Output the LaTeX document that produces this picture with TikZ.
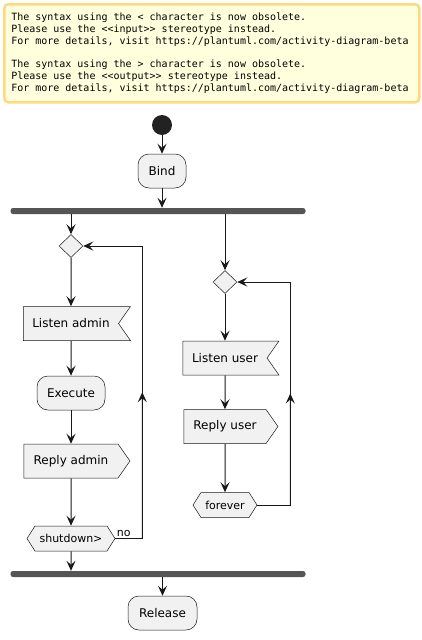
\documentclass[tikz,border=0pt]{standalone}
\usepackage{fontspec}
\setmainfont{DejaVu Sans}
\newfontfamily\notefont{DejaVu Sans Mono}[Ligatures=TeXOff,WordSpace={1,0,0}]
\usetikzlibrary{positioning,shapes.geometric,shapes.symbols,arrows.meta,calc}
\definecolor{boxfill}{HTML}{F1F1F1}
\definecolor{boxline}{HTML}{181818}
\definecolor{notefill}{HTML}{FFFFDD}
\definecolor{noteline}{HTML}{FFD980}
\definecolor{barcol}{HTML}{555555}
\definecolor{dotcol}{HTML}{222222}

\begin{document}
\begin{tikzpicture}[x=1pt,y=-1pt,
      note/.style={draw=noteline,fill=notefill,line width=2.5pt,rounded corners=4pt,
        text width=401pt,minimum height=98pt,inner xsep=7pt,align=left,
        font=\notefont\fontsize{10}{11.7}\selectfont},
      dot/.style={circle,fill=dotcol,minimum size=20pt,inner sep=0pt},
      act/.style={draw=boxline,fill=boxfill,line width=0.5pt,rounded corners=11pt,
        minimum height=34pt,font=\fontsize{12}{14}\selectfont},
      inbox/.style={act,rounded corners=0pt,signal,signal to=nowhere,signal from=east,
        signal pointer angle=110},
      outbox/.style={act,rounded corners=0pt,signal,signal to=east,signal from=nowhere,
        signal pointer angle=110},
      test/.style={act,rounded corners=0pt,signal,signal to=west and east,
        signal pointer angle=115,minimum height=25pt,font=\fontsize{11}{13}\selectfont},
      choice/.style={draw=boxline,fill=boxfill,line width=0.5pt,diamond,
        minimum width=24pt,minimum height=23pt,inner sep=0pt},
      bar/.style={fill=barcol,rounded corners=2.5pt,minimum width=295pt,
        minimum height=6pt,inner sep=0pt},
      line/.style={draw=boxline,line width=1pt},
      flow/.style={line,-{Stealth[length=10pt,width=9pt,inset=4pt]}}
    ]
        \useasboundingbox (0,0) rectangle (422,640);
        \node[note,anchor=north west] (warn) at (3,3) {\spaceskip=0pt\xspaceskip=0pt
          The syntax using the < character is now obsolete.\\
          Please use the <<input>> stereotype instead.\\
          For more details, visit https://plantuml.com/activity-diagram-beta\\[11.7pt]
          The syntax using the > character is now obsolete.\\
          Please use the <<output>> stereotype instead.\\
          For more details, visit https://plantuml.com/activity-diagram-beta};
        \node[dot] (start) at (162,125) {};
        \node[act,minimum width=48pt] (bind) at (162,171) {Bind};
        \node[bar] (fork) at (158,211) {};
        % admin branch
        \node[choice] (d1) at (71,246) {};
        \node[inbox,minimum width=107pt] (la) at (71,323.5) {Listen admin};
        \node[act,minimum width=68pt] (ex) at (71,393) {Execute};
        \node[outbox,minimum width=106pt] (ra) at (71,461) {Reply admin};
        \node[test,minimum width=88pt] (sd) at (71,538.5) {shutdown>};
        % user branch
        \node[choice] (d2) at (225,282) {};
        \node[inbox,minimum width=96pt] (lu) at (225,358) {Listen user};
        \node[outbox,minimum width=94pt] (ru) at (225,426.5) {Reply user};
        \node[test,minimum width=64pt] (fe) at (225,505) {forever};
        \node[bar] (join) at (158,574) {};
        \node[act,minimum width=69pt] (rel) at (162.5,613) {Release};
        \path (start) edge[flow] (bind)
              (bind) edge[flow] (bind |- fork.north)
              (d1 |- fork.south) edge[flow] (d1)
              (d1) edge[flow] (la)
              (la) edge[flow] (ex)
              (ex) edge[flow] (ra)
              (ra) edge[flow] (sd)
              (sd) edge[flow] (sd |- join.north)
              (d2 |- fork.south) edge[flow] (d2)
              (d2) edge[flow] (lu)
              (lu) edge[flow] (ru)
              (ru) edge[flow] (fe)
              (rel |- join.south) edge[flow] (rel);
        % loops back
        \coordinate (lpA) at ($(sd.east)+(27,0)$);
        \coordinate (lpB) at (lpA |- d1.east);
        \draw[line] (sd.east) -- node[pos=0,anchor=south west,inner sep=1pt,
          font=\fontsize{11}{13}\selectfont] {no} (lpA) -- (lpB);
        \draw[flow] (lpA) -- ($(lpA)!.5!(lpB)$);
        \draw[flow] (lpB) -- (d1.east);
        \coordinate (lpC) at ($(fe.east)+(33,0)$);
        \coordinate (lpD) at (lpC |- d2.east);
        \draw[line] (fe.east) -- (lpC) -- (lpD);
        \draw[flow] (lpC) -- ($(lpC)!.5!(lpD)$);
        \draw[flow] (lpD) -- (d2.east);
    \end{tikzpicture}
\end{document}
